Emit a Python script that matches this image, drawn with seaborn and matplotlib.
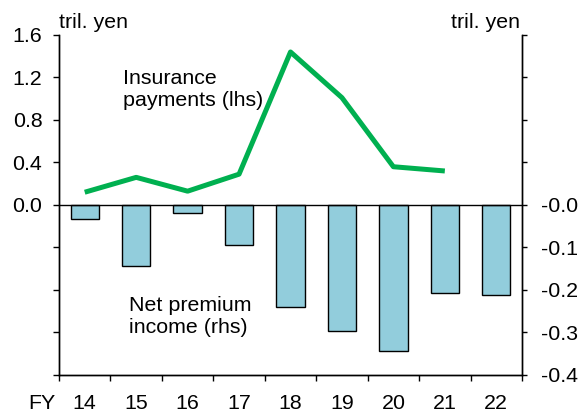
import matplotlib
matplotlib.use("Agg")
import matplotlib.pyplot as plt
import numpy as np
import pandas as pd
import seaborn as sns

# Fiscal years (FY2014-FY2022)
years = ["14", "15", "16", "17", "18", "19", "20", "21", "22"]
# Non-life insurance payments, tril. yen (left axis), FY14-FY21
payments = [0.12, 0.26, 0.13, 0.29, 1.44, 1.01, 0.36, 0.32]
# Net premium income, tril. yen (right axis), FY14-FY22
premium = [-0.032, -0.144, -0.018, -0.093, -0.240, -0.297, -0.343, -0.207, -0.212]

left_ticks = [0.0, 0.4, 0.8, 1.2, 1.6]
right_ticks = [0.0, -0.1, -0.2, -0.3, -0.4]

FS = 15.4

sns.set_theme(style="white")
plt.rcParams["font.family"] = ["Liberation Sans", "DejaVu Sans"]
plt.rcParams["font.size"] = FS

fig = plt.figure(figsize=(5.78, 4.16), dpi=100)
ax = fig.add_axes([0.1021, 0.0986, 0.801, 0.8173])
ax2 = ax.twinx()

bar_df = pd.DataFrame({"year": years, "premium": premium})
sns.barplot(data=bar_df, x="year", y="premium", ax=ax2, color="#92CDDC",
            saturation=1, width=0.55, edgecolor="black", linewidth=1.0)

line_df = pd.DataFrame({"pos": np.arange(len(payments)), "payments": payments})
sns.lineplot(data=line_df, x="pos", y="payments", ax=ax, color="#00B050",
             linewidth=3.6, solid_capstyle="butt")

ax.set_zorder(ax2.get_zorder() + 1)
ax.patch.set_visible(False)

ax.set_xlim(-0.5, len(years) - 0.5)
ax.set_ylim(-1.6, 1.6)
ax2.set_ylim(-0.4, 0.4)
ax.axhline(0, color="black", linewidth=1.0)

# left axis: ticks at every step, labels only for the positive half
ax.set_yticks([-1.6, -1.2, -0.8, -0.4] + left_ticks)
ax.set_yticklabels([""] * 4 + [f"{v:.1f}" for v in left_ticks])
# right axis: labels only for the negative half
ax2.set_yticks(right_ticks + [0.1, 0.2, 0.3, 0.4])
ax2.set_yticklabels(["-" + f"{abs(v):.1f}" for v in right_ticks] + [""] * 4)

# x axis: labels at category centres, tick marks at category boundaries
ax.set_xticks(np.arange(len(years)))
ax.set_xticklabels(years)
ax.set_xticks(np.arange(-0.5, len(years)), minor=True)
ax.tick_params(axis="x", which="major", length=0, pad=14, labelsize=FS, colors="black")
ax.tick_params(axis="x", which="minor", length=4.3, width=1, direction="out",
               color="black", bottom=True)
ax.tick_params(axis="y", length=4.5, width=1, direction="out", pad=7.5, labelsize=FS,
               colors="black", left=True)
ax2.tick_params(axis="y", length=3.5, width=1, direction="out", pad=10.5, labelsize=FS,
                colors="black", right=True)

for a in (ax, ax2):
    a.set_xlabel("")
    a.set_ylabel("")
    a.grid(False)
    for s in a.spines.values():
        s.set_color("black")
        s.set_linewidth(1.0)
    a.spines["top"].set_visible(False)

ax.annotate("FY", xy=(0, 0), xycoords="axes fraction", xytext=(-22.3, -14),
            textcoords="offset points", ha="left", va="top", fontsize=FS, color="black")
ax.annotate("tril. yen", xy=(0, 1), xycoords="axes fraction", xytext=(0, 5.2),
            textcoords="offset points", ha="left", va="baseline", fontsize=FS, color="black")
ax.annotate("tril. yen", xy=(1, 1), xycoords="axes fraction", xytext=(-1.5, 5.2),
            textcoords="offset points", ha="right", va="baseline", fontsize=FS, color="black")

ax.text(0.138, 0.791, "Insurance\npayments (lhs)", transform=ax.transAxes,
        ha="left", va="baseline", fontsize=FS, color="black", linespacing=1.2)
ax.text(0.151, 0.124, "Net premium\nincome (rhs)", transform=ax.transAxes,
        ha="left", va="baseline", fontsize=FS, color="black", linespacing=1.2)

fig.savefig("out.png", dpi=100, facecolor="white")
